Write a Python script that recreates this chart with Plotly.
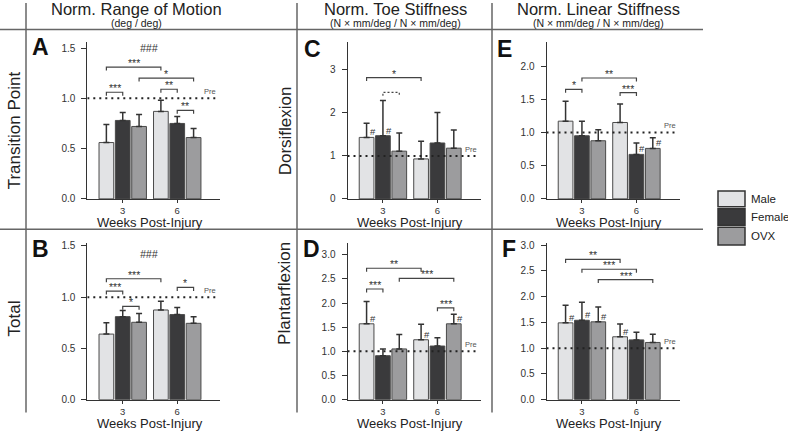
import plotly.graph_objects as go

W, H = 788, 438
FONT = "Liberation Sans, Arial, Helvetica, sans-serif"
INK = "#333333"

# ---------------- data ----------------
week_labels = ["3", "6"]
week_pos = [0, 1]
groups = ["Male", "Female", "OVX"]
group_colors = ["#e2e3e5", "#3a3a3c", "#9c9c9e"]

# rows: Male, Female, OVX ; columns: 3 wk, 6 wk
rom_tp_mean = [[0.56, 0.87], [0.78, 0.75], [0.72, 0.61]]
rom_tp_sd = [[0.18, 0.11], [0.08, 0.07], [0.12, 0.09]]
rom_tot_mean = [[0.64, 0.875], [0.81, 0.83], [0.755, 0.745]]
rom_tot_sd = [[0.11, 0.085], [0.06, 0.07], [0.085, 0.065]]
toe_df_mean = [[1.43, 0.93], [1.47, 1.30], [1.11, 1.18]]
toe_df_sd = [[0.33, 0.41], [0.82, 0.71], [0.42, 0.42]]
toe_pf_mean = [[1.57, 1.24], [0.91, 1.11], [1.05, 1.57]]
toe_pf_sd = [[0.46, 0.32], [0.14, 0.17], [0.30, 0.20]]
lin_df_mean = [[1.17, 1.15], [0.95, 0.67], [0.875, 0.76]]
lin_df_sd = [[0.30, 0.28], [0.22, 0.17], [0.165, 0.16]]
lin_pf_mean = [[1.49, 1.22], [1.54, 1.16], [1.51, 1.11]]
lin_pf_sd = [[0.34, 0.25], [0.35, 0.15], [0.29, 0.16]]

# tick labels
rom_ticks = ["0.0", "0.5", "1.0", "1.5"]
toe_df_ticks = ["0", "1", "2", "3"]
lin_df_ticks = ["0.0", "0.5", "1.0", "1.5", "2.0"]
pf_ticks = ["0.0", "0.5", "1.0", "1.5", "2.0", "2.5", "3.0"]

# significance brackets: (week a, group a, week b, group b, level, label)
rom_tp_sig = [(0, 0, 1, 0, 1.31, "***"), (0, 2, 1, 2, 1.20, "*"), (0, 0, 0, 1, 1.06, "***"),
              (1, 0, 1, 1, 1.09, "**"), (1, 1, 1, 2, 0.88, "**")]
rom_tot_sig = [(0, 0, 1, 0, 1.18, "***"), (0, 0, 0, 1, 1.06, "***"), (0, 1, 0, 2, 0.91, "*"),
               (1, 1, 1, 2, 1.095, "*")]
toe_df_sig = [(0, 0, 1, 0, 2.82, "*"), (0, 1, 0, 2, 2.476, "")]
toe_pf_sig = [(0, 0, 1, 0, 2.72, "**"), (0, 2, 1, 2, 2.51, "***"), (0, 0, 0, 1, 2.29, "***"),
              (1, 1, 1, 2, 1.90, "***")]
lin_df_sig = [(0, 0, 0, 1, 1.65, "*"), (0, 1, 1, 1, 1.82, "**"), (1, 0, 1, 1, 1.60, "***")]
lin_pf_sig = [(0, 0, 1, 0, 2.72, "**"), (0, 1, 1, 1, 2.53, "***"), (0, 2, 1, 2, 2.33, "***")]

# '#' markers (different from pre): (week, group)
toe_df_hash = [(0, 0), (0, 1)]
toe_pf_hash = [(0, 0), (1, 0), (1, 2)]
lin_df_hash = [(1, 1), (1, 2)]
lin_pf_hash = [(0, 0), (0, 1), (0, 2), (1, 0)]

# '###' main-effect labels: level
rom_tp_main = 1.50
rom_tot_main = 1.417

# ---------------- layout helpers ----------------
def px(x):
    return x / W

def py(y):
    return 1 - y / H

BARGAP = 0.1
SLOT = (1 - BARGAP) / 3

def bar_x(w, g):
    return week_pos[w] + (g - 1) * SLOT

XRANGE = [-0.65, 1.79]
col_px = [(87.3, 220.3), (347.5, 480.5), (546.5, 679.5)]
row_px = [(40, 200), (245, 405)]

panels = [
    dict(letter="A", col=0, row=0, mean=rom_tp_mean, sd=rom_tp_sd, top=1.558,
         tv=[0, 0.5, 1, 1.5], tt=rom_ticks, sig=rom_tp_sig, hashes=[], main=rom_tp_main),
    dict(letter="C", col=1, row=0, mean=toe_df_mean, sd=toe_df_sd, top=3.645,
         tv=[0, 1, 2, 3], tt=toe_df_ticks, sig=toe_df_sig, hashes=toe_df_hash, main=None),
    dict(letter="E", col=2, row=0, mean=lin_df_mean, sd=lin_df_sd, top=2.359,
         tv=[0, 0.5, 1, 1.5, 2], tt=lin_df_ticks, sig=lin_df_sig, hashes=lin_df_hash, main=None),
    dict(letter="B", col=0, row=1, mean=rom_tot_mean, sd=rom_tot_sd, top=1.529,
         tv=[0, 0.5, 1, 1.5], tt=rom_ticks, sig=rom_tot_sig, hashes=[], main=rom_tot_main),
    dict(letter="D", col=1, row=1, mean=toe_pf_mean, sd=toe_pf_sd, top=3.243,
         tv=[0, 0.5, 1, 1.5, 2, 2.5, 3], tt=pf_ticks, sig=toe_pf_sig, hashes=toe_pf_hash, main=None),
    dict(letter="F", col=2, row=1, mean=lin_pf_mean, sd=lin_pf_sd, top=3.04,
         tv=[0, 0.5, 1, 1.5, 2, 2.5, 3], tt=pf_ticks, sig=lin_pf_sig, hashes=lin_pf_hash, main=None),
]

letter_pos = {"A": (40, 45), "B": (40, 251), "C": (312, 47), "D": (311, 251),
              "E": (505, 47), "F": (509, 251)}

fig = go.Figure()
layout = dict(
    width=W, height=H, margin=dict(l=0, r=0, t=0, b=0),
    paper_bgcolor="white", plot_bgcolor="white",
    barmode="group", bargap=BARGAP, bargroupgap=0.1,
    showlegend=False,
    font=dict(family=FONT, color=INK),
)
shapes = []
annotations = []


def note(text, x, y, xref="paper", yref="paper", size=10, color=INK, **kw):
    d = dict(text=text, x=x, y=y, xref=xref, yref=yref, showarrow=False,
             xanchor="center", yanchor="middle", font=dict(size=size, color=color))
    d.update(kw)
    annotations.append(d)


for i, p in enumerate(panels, start=1):
    xa = "x" if i == 1 else f"x{i}"
    ya = "y" if i == 1 else f"y{i}"
    xk = "xaxis" if i == 1 else f"xaxis{i}"
    yk = "yaxis" if i == 1 else f"yaxis{i}"
    cx0, cx1 = col_px[p["col"]]
    ry0, ry1 = row_px[p["row"]]
    layout[xk] = dict(domain=[px(cx0), px(cx1)], range=XRANGE, anchor=ya,
                      tickvals=week_pos, ticktext=week_labels, showline=True,
                      linecolor=INK, linewidth=1, ticks="outside", ticklen=3,
                      tickcolor=INK, showgrid=False, zeroline=False,
                      tickfont=dict(size=9.5, color=INK), fixedrange=True)
    layout[yk] = dict(domain=[py(ry1), py(ry0)], range=[0, p["top"]], anchor=xa,
                      tickvals=p["tv"], ticktext=p["tt"], showline=True,
                      linecolor=INK, linewidth=1, ticks="outside", ticklen=5,
                      tickcolor=INK, showgrid=False, zeroline=False,
                      ticklabelstandoff=4,
                      tickfont=dict(size=10, color=INK), fixedrange=True)

    for g, name in enumerate(groups):
        fig.add_trace(go.Bar(
            x=week_pos, y=p["mean"][g], name=name, xaxis=xa, yaxis=ya,
            marker=dict(color=group_colors[g], line=dict(color="#4a4a4a", width=1)),
            error_y=dict(type="data", symmetric=False, array=p["sd"][g],
                         arrayminus=[0, 0], color=INK, thickness=1.5, width=3),
        ))

    # pre-injury reference line
    shapes.append(dict(type="line", xref=xa, yref=ya, x0=XRANGE[0], x1=1.76, y0=1, y1=1,
                       line=dict(color="#222222", width=2, dash="2px,4px"), layer="above"))
    note("Pre", 1.61, 1.0, xref=xa, yref=ya, size=7.5, color="#555555", yanchor="bottom")

    tlen = 3.5 * p["top"] / 160.0
    for (wa, ga, wb, gb, lvl, lab) in p["sig"]:
        xa0, xb0 = bar_x(wa, ga), bar_x(wb, gb)
        dotted = lab == ""
        shapes.append(dict(type="path", xref=xa, yref=ya,
                           path=f"M {xa0},{lvl - tlen} L {xa0},{lvl} L {xb0},{lvl} L {xb0},{lvl - tlen}",
                           line=dict(color="#444444", width=1.2,
                                     dash="2px,2px" if dotted else "solid")))
        if lab:
            note(lab, (xa0 + xb0) / 2, lvl, xref=xa, yref=ya, size=10.5,
                 yanchor="bottom", yshift=-4)
    for (w, g) in p["hashes"]:
        note("#", bar_x(w, g), p["mean"][g][w], xref=xa, yref=ya, size=9.5,
             xanchor="left", yanchor="bottom", xshift=1, yshift=-2)
    if p["main"] is not None:
        note("<i>###</i>", 0.48, p["main"], xref=xa, yref=ya, size=10.5)

    # x-axis title
    note("Weeks Post-Injury", 0.5, py(ry1 + 24), xref=xa, size=13, color="#222222")
    lx, ly = letter_pos[p["letter"]]
    note(f"<b>{p['letter']}</b>", px(lx), py(ly), size=23, color="#111111")

# column headers
headers = [("Norm. Range of Motion", "(deg / deg)", 136),
           ("Norm. Toe Stiffness", "(N × mm/deg / N × mm/deg)", 395),
           ("Norm. Linear Stiffness", "(N × mm/deg / N × mm/deg)", 598)]
for title, unit, hx in headers:
    note(title, px(hx), py(6.5), size=16.5, color="#222222")
    note(unit, px(hx), py(20), size=10.5, color="#222222")

# row labels
row_labels = [("Transition Point", 14, 130), ("Total", 14, 322),
              ("Dorsiflexion", 285, 131), ("Plantarflexion", 285, 297)]
for txt, rx, ry in row_labels:
    note(txt, px(rx), py(ry), size=17, color="#222222", textangle=-90)

# separator lines
sep = dict(color="#666666", width=1.5)
for yy in (27, 231):
    shapes.append(dict(type="line", xref="paper", yref="paper", x0=0, x1=px(703),
                       y0=py(yy), y1=py(yy), line=sep))
for xx in (26, 297, 492):
    shapes.append(dict(type="line", xref="paper", yref="paper", x0=px(xx), x1=px(xx),
                       y0=py(0), y1=py(418), line=sep))

# legend
leg_rows = [(192, 208), (210, 227), (229, 247)]
for g, name in enumerate(groups):
    y0, y1 = leg_rows[g]
    shapes.append(dict(type="rect", xref="paper", yref="paper", x0=px(718), x1=px(745),
                       y0=py(y1), y1=py(y0), fillcolor=group_colors[g],
                       line=dict(color="#333333", width=1.5)))
    note(name, px(749), py((y0 + y1) / 2), size=11.5, color="#222222", xanchor="left")

layout["shapes"] = shapes
layout["annotations"] = annotations
fig.update_layout(**layout)
fig.write_html("out.html", config={"displayModeBar": False},
               post_script="document.body.style.margin='0';document.body.style.overflow='hidden';")
